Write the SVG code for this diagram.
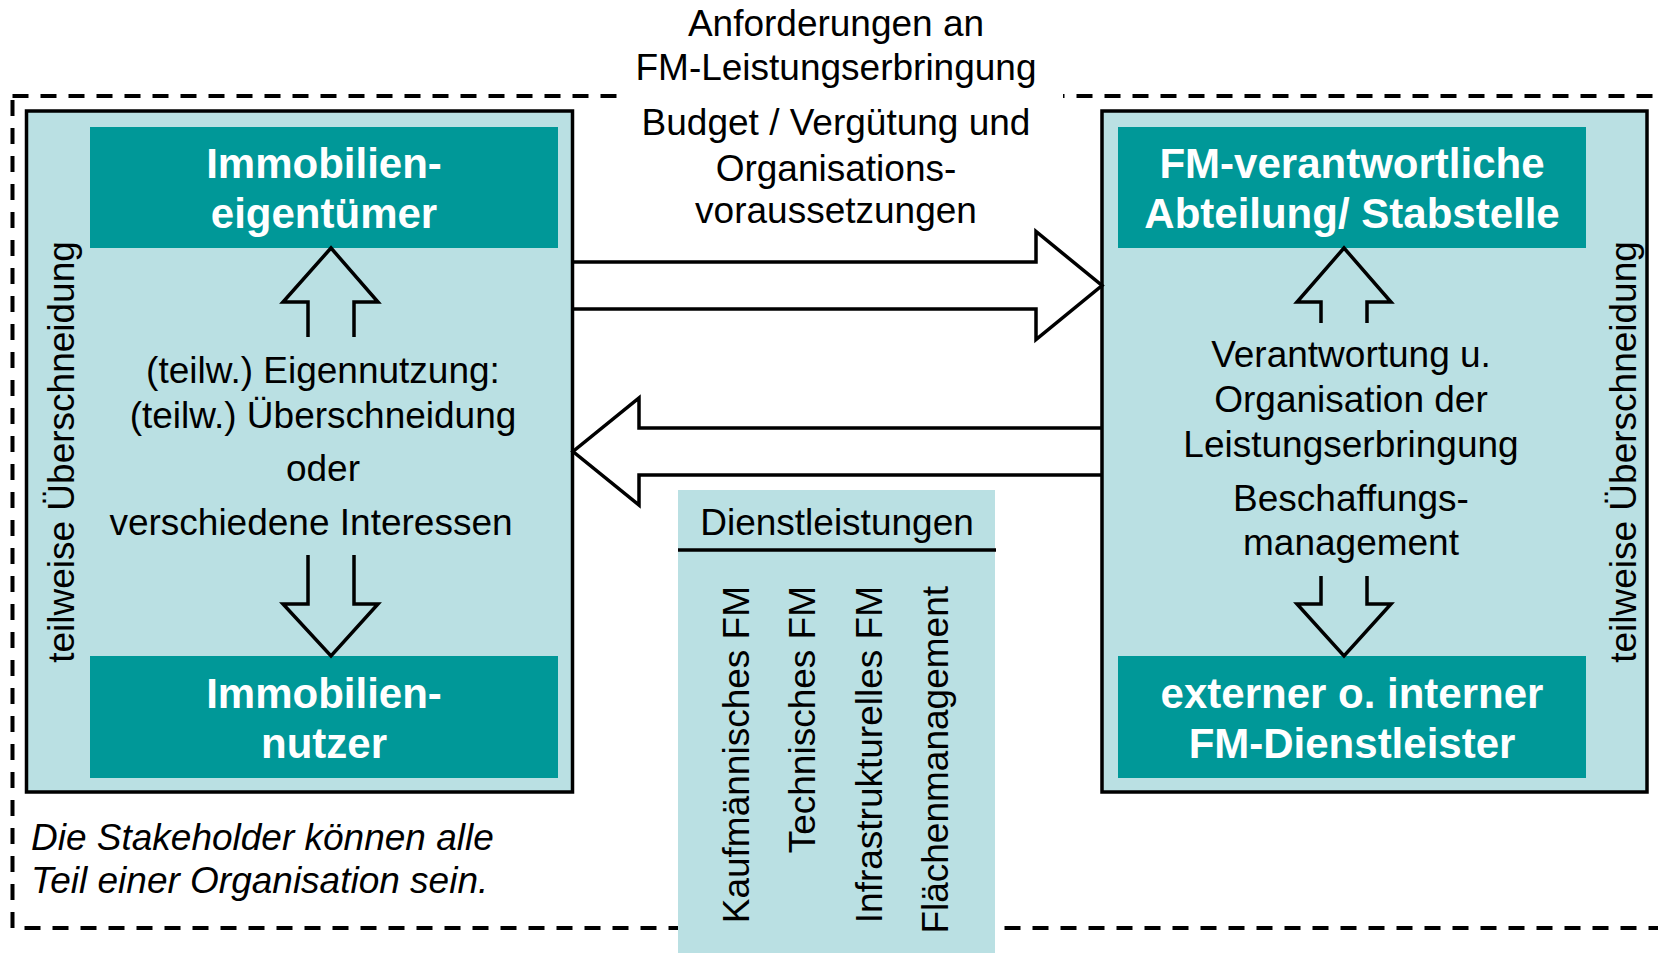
<svg xmlns="http://www.w3.org/2000/svg" width="1658" height="953" viewBox="0 0 1658 953">
<style>
.t{font-family:"Liberation Sans",Arial,sans-serif;font-size:37px;fill:#000;text-anchor:middle}
.b{font-family:"Liberation Sans",Arial,sans-serif;font-size:42px;font-weight:bold;fill:#fff;text-anchor:middle}
.i{font-family:"Liberation Sans",Arial,sans-serif;font-size:37px;font-style:italic;fill:#000}
.box{fill:#BAE0E3;stroke:#000;stroke-width:3.5}
.teal{fill:#009898}
.arr{fill:none;stroke:#000;stroke-width:3.5;stroke-linejoin:miter}
</style>
<rect width="1658" height="953" fill="#fff"/>
<g id="frame">
<rect x="12.5" y="96" width="1670" height="832" fill="none" stroke="#000" stroke-width="4" stroke-dasharray="16 12"/>
<rect x="618" y="86" width="445" height="20" fill="#fff"/>
</g>
<g id="label-top">
<text class="t" x="836" y="36">Anforderungen an</text>
<text class="t" x="836" y="80">FM-Leistungserbringung</text>
<text class="t" x="836" y="135">Budget / Vergütung und</text>
<text class="t" x="836" y="181">Organisations-</text>
<text class="t" x="836" y="223">voraussetzungen</text>
</g>
<g id="left-group">
<rect class="box" x="26.5" y="111" width="546" height="681"/>
<text class="t" transform="translate(74,452) rotate(-90)">teilweise Überschneidung</text>
<text class="t" x="323" y="383">(teilw.) Eigennutzung:</text>
<text class="t" x="323" y="428">(teilw.) Überschneidung</text>
<text class="t" x="323" y="481">oder</text>
<text class="t" x="311" y="535">verschiedene Interessen</text>
</g>
<g id="eigentuemer">
<rect class="teal" x="90" y="127" width="468" height="121"/>
<text class="b" x="324" y="178">Immobilien-</text>
<text class="b" x="324" y="228">eigentümer</text>
</g>
<g id="nutzer">
<rect class="teal" x="90" y="656" width="468" height="122"/>
<text class="b" x="324" y="708">Immobilien-</text>
<text class="b" x="324" y="758">nutzer</text>
</g>
<g id="right-group">
<rect class="box" x="1102" y="111" width="545" height="681"/>
<text class="t" transform="translate(1636,452) rotate(-90)">teilweise Überschneidung</text>
<text class="t" x="1351" y="367">Verantwortung u.</text>
<text class="t" x="1351" y="412">Organisation der</text>
<text class="t" x="1351" y="457">Leistungserbringung</text>
<text class="t" x="1351" y="511">Beschaffungs-</text>
<text class="t" x="1351" y="555">management</text>
</g>
<g id="fm-abteilung">
<rect class="teal" x="1118" y="127" width="468" height="121"/>
<text class="b" x="1352" y="178">FM-verantwortliche</text>
<text class="b" x="1352" y="228">Abteilung/ Stabstelle</text>
</g>
<g id="dienstleister">
<rect class="teal" x="1118" y="656" width="468" height="122"/>
<text class="b" x="1352" y="708">externer o. interner</text>
<text class="b" x="1352" y="758">FM-Dienstleister</text>
</g>
<g id="dienstleistungen">
<rect x="678" y="490" width="317" height="463" fill="#BAE0E3"/>
<text class="t" x="837" y="535">Dienstleistungen</text>
<line x1="678" y1="550" x2="996" y2="550" stroke="#000" stroke-width="3.5"/>
<text class="t" transform="translate(749,586) rotate(-90)" style="text-anchor:end">Kaufmännisches FM</text>
<text class="t" transform="translate(815,586) rotate(-90)" style="text-anchor:end">Technisches FM</text>
<text class="t" transform="translate(882,586) rotate(-90)" style="text-anchor:end">Infrastrukturelles FM</text>
<text class="t" transform="translate(948,586) rotate(-90)" style="text-anchor:end">Flächenmanagement</text>
</g>
<g id="connectors">
<path class="arr" d="M573,262 H1036 V231.5 L1102,285.5 L1036,339.5 V309 H573"/>
<path class="arr" d="M1102,428 H639 V398 L573,451.5 L639,505 V475 H1102"/>
<path class="arr" d="M308,337 V302 H283 L331,248 L378,302 H354 V337"/>
<path class="arr" d="M308,555 V604 H283 L331,656 L378,604 H354 V555"/>
<path class="arr" d="M1321,323 V302 H1297 L1344,248 L1391,302 H1367 V323"/>
<path class="arr" d="M1321,576 V604 H1297 L1344,656 L1391,604 H1367 V576"/>
</g>
<g id="note">
<text class="i" x="31" y="850">Die Stakeholder können alle</text>
<text class="i" x="31" y="893">Teil einer Organisation sein.</text>
</g>
</svg>
